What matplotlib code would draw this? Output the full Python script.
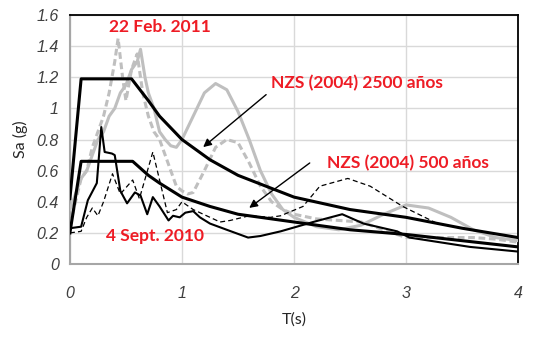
import numpy as np
import matplotlib
matplotlib.use("Agg")
import matplotlib.pyplot as plt
from matplotlib import font_manager

# espectros de diseno NZS (2004)
t_2500 = [0.0, 0.1, 0.55, 0.7, 0.8, 1.0, 1.25, 1.5, 2.0, 2.5, 3.0, 3.5, 4.0]
sa_2500 = [0.42, 1.19, 1.19, 1.05, 0.95, 0.80, 0.67, 0.57, 0.43, 0.35, 0.30, 0.23, 0.17]

t_500 = [0.0, 0.1, 0.56, 0.7, 0.8, 1.0, 1.25, 1.5, 2.0, 2.5, 3.0, 3.5, 4.0]
sa_500 = [0.20, 0.66, 0.66, 0.57, 0.52, 0.43, 0.37, 0.32, 0.27, 0.22, 0.19, 0.15, 0.11]

# registro 22 Feb. 2011 (dos componentes)
t_feb_a = [0.0, 0.05, 0.1, 0.15, 0.2, 0.25, 0.3, 0.35, 0.4, 0.45, 0.5, 0.55, 0.6, 0.63,
           0.67, 0.7, 0.75, 0.8, 0.85, 0.9, 0.95, 1.0, 1.1, 1.2, 1.3, 1.4, 1.5, 1.6, 1.7,
           1.8, 1.9, 2.0, 2.2, 2.4, 2.6, 2.8, 3.0, 3.2, 3.4, 3.6, 3.8, 4.0]
sa_feb_a = [0.35, 0.45, 0.55, 0.6, 0.7, 0.8, 0.85, 0.95, 1.0, 1.1, 1.15, 1.25, 1.3, 1.38,
            1.2, 1.1, 1.0, 0.85, 0.8, 0.76, 0.75, 0.8, 0.95, 1.1, 1.16, 1.12, 0.98, 0.8, 0.6,
            0.45, 0.35, 0.3, 0.24, 0.22, 0.25, 0.32, 0.38, 0.36, 0.3, 0.22, 0.17, 0.15]

t_feb_b = [0.0, 0.05, 0.1, 0.15, 0.2, 0.25, 0.3, 0.35, 0.4, 0.43, 0.47, 0.5, 0.55, 0.6,
           0.65, 0.7, 0.75, 0.8, 0.85, 0.9, 0.95, 1.0, 1.05, 1.1, 1.2, 1.3, 1.4, 1.5, 1.6,
           1.7, 1.8, 1.9, 2.0, 2.2, 2.4, 2.6, 2.8, 3.0, 3.2, 3.4, 3.6, 3.8, 4.0]
sa_feb_b = [0.25, 0.4, 0.55, 0.6, 0.75, 0.85, 0.95, 1.1, 1.3, 1.45, 1.2, 1.05, 1.25, 1.35,
            1.1, 0.95, 0.85, 0.8, 0.7, 0.6, 0.5, 0.47, 0.45, 0.46, 0.6, 0.75, 0.8, 0.78, 0.65,
            0.5, 0.4, 0.35, 0.32, 0.29, 0.28, 0.27, 0.22, 0.17, 0.17, 0.17, 0.17, 0.16, 0.14]

# registro 4 Sept. 2010 (dos componentes)
t_sep_a = [0.0, 0.1, 0.16, 0.24, 0.28, 0.31, 0.375, 0.4, 0.45, 0.51, 0.58, 0.63, 0.69,
           0.74, 0.8, 0.88, 0.92, 0.98, 1.03, 1.1, 1.16, 1.25, 1.4, 1.59, 1.7, 1.88, 2.17,
           2.43, 2.62, 2.92, 3.03, 3.57, 4.0]
sa_sep_a = [0.23, 0.24, 0.41, 0.52, 0.88, 0.72, 0.71, 0.70, 0.47, 0.39, 0.46, 0.44, 0.32,
            0.43, 0.37, 0.28, 0.31, 0.30, 0.33, 0.34, 0.30, 0.26, 0.22, 0.17, 0.18, 0.21, 0.27,
            0.32, 0.26, 0.21, 0.17, 0.11, 0.08]

t_sep_b = [0.0, 0.1, 0.15, 0.2, 0.25, 0.3, 0.38, 0.45, 0.56, 0.62, 0.74, 0.87, 0.95, 1.0,
           1.1, 1.25, 1.34, 1.43, 1.6, 1.79, 1.88, 2.08, 2.23, 2.48, 2.68, 2.97, 3.28, 3.57, 4.0]
sa_sep_b = [0.20, 0.21, 0.30, 0.36, 0.31, 0.40, 0.58, 0.45, 0.54, 0.42, 0.72, 0.33, 0.35, 0.40,
            0.35, 0.30, 0.27, 0.28, 0.31, 0.30, 0.31, 0.37, 0.50, 0.55, 0.50, 0.37, 0.26, 0.22, 0.17]

x_ticks = [0, 1, 2, 3, 4]
x_labels = ["0", "1", "2", "3", "4"]
y_ticks = [0, 0.2, 0.4, 0.6, 0.8, 1.0, 1.2, 1.4, 1.6]
y_labels = ["0", "0.2", "0.4", "0.6", "0.8", "1", "1.2", "1.4", "1.6"]

red = "#EE1C25"
grey = "#BFBFBF"

fig = plt.figure(figsize=(5.42, 3.42), dpi=100)
ax = fig.add_axes([0.129, 0.228, 0.827, 0.728])

ax.plot(t_feb_a, sa_feb_a, color=grey, lw=2.2, zorder=3)
ax.plot(t_feb_b, sa_feb_b, color=grey, lw=2.2, ls=(0, (2.2, 1.2)), zorder=3)
ax.plot(t_sep_b, sa_sep_b, color="black", lw=0.9, ls=(0, (4, 2.5)), zorder=4)
ax.plot(t_sep_a, sa_sep_a, color="black", lw=1.5, zorder=4)
ax.plot(t_2500, sa_2500, color="black", lw=2.2, zorder=5)
ax.plot(t_500, sa_500, color="black", lw=2.2, zorder=5)

ax.set_xlim(0, 4)
ax.set_ylim(0, 1.6)
ax.grid(True, color="#D9D9D9", lw=1.0)
ax.set_axisbelow(True)
ax.tick_params(length=0, labelcolor="#404040")
ax.tick_params(axis="y", pad=8)
ax.tick_params(axis="x", pad=16)

# fuente italica para los ticks, tomada del archivo directamente
try:
    f_it = font_manager.findfont(font_manager.FontProperties(family="Liberation Sans", style="italic"))
    tick_prop = font_manager.FontProperties(fname=f_it, size=11.5)
except Exception:
    tick_prop = font_manager.FontProperties(family="DejaVu Sans", style="oblique", size=11)

ax.set_xticks(x_ticks)
ax.set_xticklabels(x_labels, fontproperties=tick_prop, color="#404040")
ax.set_yticks(y_ticks)
ax.set_yticklabels(y_labels, fontproperties=tick_prop, color="#404040")

ax.spines["left"].set_color("#A6A6A6")
ax.spines["bottom"].set_color("#A6A6A6")
ax.spines["left"].set_linewidth(1.5)
ax.spines["bottom"].set_linewidth(1.5)
ax.spines["top"].set_color("black")
ax.spines["right"].set_color("black")
ax.spines["top"].set_linewidth(1.3)
ax.spines["right"].set_linewidth(1.3)

ax.set_ylabel("Sa (g)", family="Lato", fontsize=11.5, color="#262626", labelpad=6)
ax.set_xlabel("T(s)", family="Lato", fontsize=11.5, color="#262626", labelpad=8)

kw = dict(color=red, fontweight="bold", family="Lato", fontsize=12.5, ha="center", va="center")
ax.text(0.8, 1.52, "22 Feb. 2011", **kw)
ax.text(0.76, 0.18, "4 Sept. 2010", **kw)
ax.text(2.56, 1.16, "NZS (2004) 2500 años", **kw)
ax.text(3.02, 0.65, "NZS (2004) 500 años", **kw)

arr = dict(arrowstyle="-|>", color="black", lw=1.0, mutation_scale=12)
ax.annotate("", xy=(1.17, 0.74), xytext=(1.77, 1.10), arrowprops=arr)
ax.annotate("", xy=(1.58, 0.35), xytext=(2.16, 0.66), arrowprops=arr)

fig.savefig("out.png", dpi=100)
